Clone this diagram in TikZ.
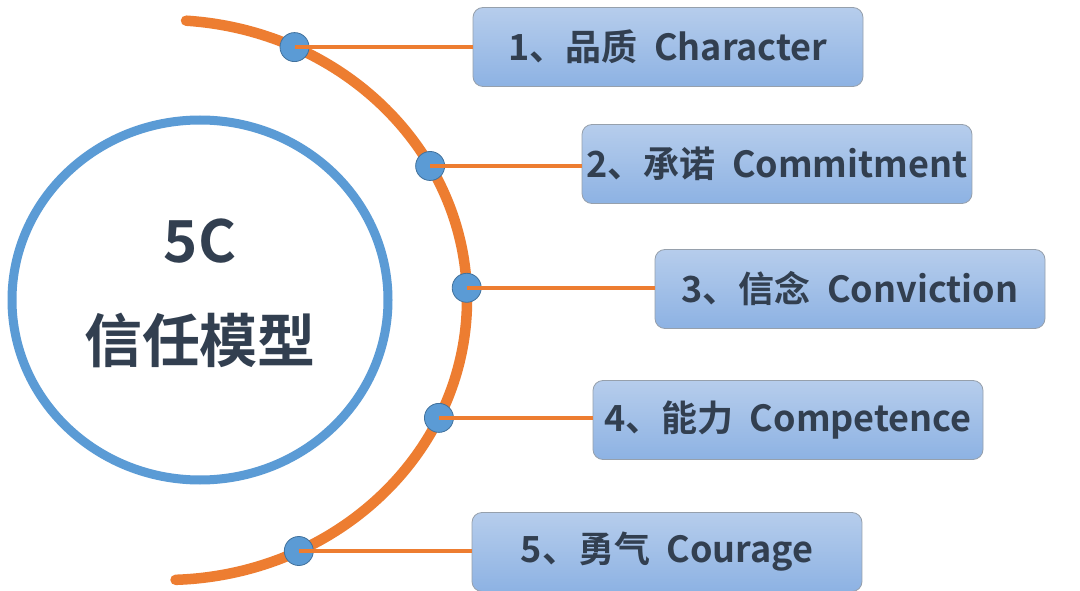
\documentclass[tikz,border=0pt]{standalone}
\usepackage{fontspec}
\setmainfont{Noto Sans CJK SC}[BoldFont={* Bold}]
\usepackage{tikz}
\usetikzlibrary{shadings}
\definecolor{ringblue}{RGB}{91,155,213}
\definecolor{dotedge}{RGB}{65,113,156}
\definecolor{arcorange}{RGB}{237,125,49}
\definecolor{boxtop}{RGB}{182,205,236}
\definecolor{boxbottom}{RGB}{141,178,227}
\definecolor{boxedge}{RGB}{150,160,172}
\definecolor{darktext}{RGB}{50,63,80}

\begin{document}
\begin{tikzpicture}[x=1pt,y=-1pt,line cap=round,line join=round,
    item/.style={draw=boxedge,line width=0.8pt,rounded corners=10pt,top color=boxtop,bottom color=boxbottom,
      minimum width=390pt,minimum height=79pt,inner sep=0pt,text=darktext,
      font=\fontsize{36}{40}\selectfont\bfseries},
    dot/.style={circle,draw=dotedge,line width=0.8pt,fill=ringblue,minimum size=29pt,inner sep=0pt},
    link/.style={arcorange,line width=3.5pt,line cap=butt}]
        \useasboundingbox[fill=white] (0,0) rectangle (1080,591);
        % ring and title
        \draw[ringblue,line width=9pt] (200,300) ellipse (188 and 180);
        \node[align=center,text=darktext,font=\fontsize{58}{100}\selectfont\bfseries] (title) at (200,293) {5C\\信任模型};
        % orange arc
        \coordinate (o) at (165,300);
        \draw[arcorange,line width=10.5pt] (o) ++(-86:302 and 280) arc[start angle=-86,end angle=88,x radius=302,y radius=280];
        % boxes
        \node[item] (b1) at (668,47) {1、品质\ \ Character};
        \node[item] (b2) at (777,164) {2、承诺\ \ Commitment};
        \node[item] (b3) at (850,289) {3、信念\ \ Conviction};
        \node[item] (b4) at (788,420) {4、能力\ \ Competence};
        \node[item] (b5) at (667,552) {5、勇气\ \ Courage};
        % dots on the arc
        \path (o) ++(-64.6:302 and 280) node[dot] (d1) {};
        \path (o) ++(-28.6:302 and 280) node[dot] (d2) {};
        \path (o) ++(-2.5:302 and 280) node[dot] (d3) {};
        \path (o) ++(24.9:302 and 280) node[dot] (d4) {};
        \path (o) ++(63.7:302 and 280) node[dot] (d5) {};
        % links
        \draw[link] (d1.center) -- (d1 -| b1.west);
        \draw[link] (d2.center) -- (d2 -| b2.west);
        \draw[link] (d3.center) -- (d3 -| b3.west);
        \draw[link] (d4.center) -- (d4 -| b4.west);
        \draw[link] (d5.center) -- (d5 -| b5.west);
      \end{tikzpicture}
\end{document}
